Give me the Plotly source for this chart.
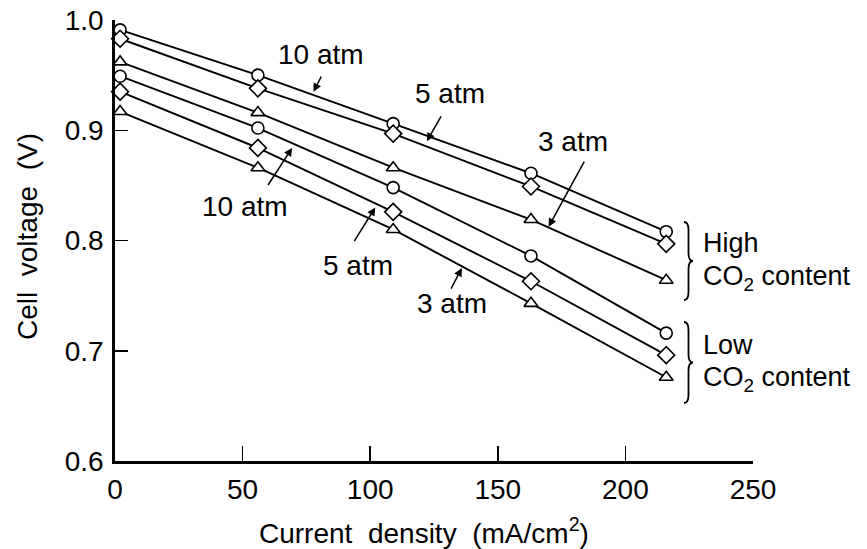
import plotly.graph_objects as go

# ---- data ----
current_density = [2, 56, 109, 163, 216]          # mA/cm^2
high_10atm = [0.991, 0.950, 0.906, 0.861, 0.808]
high_5atm = [0.983, 0.938, 0.897, 0.849, 0.797]
high_3atm = [0.962, 0.916, 0.866, 0.819, 0.764]
low_10atm = [0.949, 0.902, 0.848, 0.786, 0.716]
low_5atm = [0.935, 0.884, 0.826, 0.763, 0.696]
low_3atm = [0.917, 0.866, 0.810, 0.743, 0.676]

x_ticks = [0, 50, 100, 150, 200, 250]
y_ticks = [0.6, 0.7, 0.8, 0.9, 1.0]

FONT = "Liberation Sans, Arial, Helvetica, sans-serif"
FS = 28

series = [
    (high_10atm, "circle", "High CO2, 10 atm"),
    (high_5atm, "diamond", "High CO2, 5 atm"),
    (high_3atm, "triangle-up", "High CO2, 3 atm"),
    (low_10atm, "circle", "Low CO2, 10 atm"),
    (low_5atm, "diamond", "Low CO2, 5 atm"),
    (low_3atm, "triangle-up", "Low CO2, 3 atm"),
]

fig = go.Figure()
for vals, sym, name in series:
    size = 13 if sym == "diamond" else 12
    fig.add_trace(go.Scatter(
        x=current_density, y=vals, mode="lines+markers", name=name,
        line=dict(color="black", width=1.9),
        marker=dict(symbol=sym, size=size, color="white",
                    line=dict(color="black", width=1.6)),
        cliponaxis=False, showlegend=False,
    ))

# plot-area geometry (pixels) used for decorative items
L, R, T, B = 115, 114, 20, 88
W, H = 867, 549
PW, PH = W - L - R, H - T - B


def pp(px, py):
    return (px - L) / PW, (H - B - py) / PH


def brace_path(x0, yt, yb, w=9, r=8):
    x1 = x0 + w / 2
    x2 = x0 + w
    ym = (yt + yb) / 2
    pts = [
        ("M", [(x0, yt)]),
        ("Q", [(x1, yt), (x1, yt + r)]),
        ("L", [(x1, ym - r)]),
        ("Q", [(x1, ym), (x2, ym)]),
        ("Q", [(x1, ym), (x1, ym + r)]),
        ("L", [(x1, yb - r)]),
        ("Q", [(x1, yb), (x0, yb)]),
    ]
    s = ""
    for cmd, coords in pts:
        s += cmd + " " + " ".join("%.5f,%.5f" % pp(a, b) for a, b in coords) + " "
    return s.strip()


shapes = [
    dict(type="path", xref="paper", yref="paper", path=brace_path(684, 222, 300),
         line=dict(color="black", width=1.8)),
    dict(type="path", xref="paper", yref="paper", path=brace_path(684, 322, 403),
         line=dict(color="black", width=1.8)),
]

# pressure labels: (text, label x, label y, arrow tail x, tail y, tip x, tip y)
labels = [
    ("10 atm", 80.9, 0.969, 81.1, 0.950, 77.8, 0.935),
    ("5 atm", 131.4, 0.933, 128.1, 0.914, 122.2, 0.890),
    ("3 atm", 179.5, 0.890, 184.2, 0.873, 169.9, 0.8125),
    ("10 atm", 51.1, 0.831, 59.6, 0.849, 69.4, 0.884),
    ("5 atm", 95.3, 0.777, 93.4, 0.798, 102.0, 0.830),
    ("3 atm", 132.1, 0.743, 131.4, 0.755, 135.9, 0.775),
]

annotations = []
for txt, lx, ly, tx, ty, hx, hy in labels:
    annotations.append(dict(x=lx, y=ly, xref="x", yref="y", text=txt,
                            showarrow=False, xanchor="center", yanchor="middle",
                            font=dict(family=FONT, size=FS, color="black")))
    annotations.append(dict(x=hx, y=hy, xref="x", yref="y", ax=tx, ay=ty,
                            axref="x", ayref="y", text="", showarrow=True,
                            arrowhead=2, arrowsize=1.1, arrowwidth=1.5,
                            arrowcolor="black", standoff=0))

side_text = [
    ("High", 243),
    ("CO<sub>2</sub>\u00a0content", 278),
    ("Low", 345),
    ("CO<sub>2</sub>\u00a0content", 379),
]
for txt, py in side_text:
    x, y = pp(701, py)
    annotations.append(dict(x=x, y=y, xref="paper", yref="paper", text=txt,
                            showarrow=False, xanchor="left", yanchor="middle",
                            font=dict(family=FONT, size=27, color="black")))

# axis titles
tx, ty = pp(424, 531)
annotations.append(dict(x=tx, y=ty, xref="paper", yref="paper",
                        text="Current\u00a0 density\u00a0 (mA/cm<sup>2</sup>)",
                        showarrow=False, xanchor="center", yanchor="middle",
                        font=dict(family=FONT, size=FS, color="black")))
tx, ty = pp(27, 237)
annotations.append(dict(x=tx, y=ty, xref="paper", yref="paper",
                        text="Cell\u00a0 voltage\u00a0 (V)", textangle=-90,
                        showarrow=False, xanchor="center", yanchor="middle",
                        font=dict(family=FONT, size=FS, color="black")))

fig.update_layout(
    width=W, height=H,
    margin=dict(l=L, r=R, t=T, b=B, pad=0, autoexpand=False),
    paper_bgcolor="white", plot_bgcolor="white",
    font=dict(family=FONT, size=FS, color="black"),
    shapes=shapes, annotations=annotations,
    xaxis=dict(range=[0, 250], tickvals=x_ticks, ticktext=[str(v) for v in x_ticks],
               ticks="inside", ticklen=15, tickwidth=1.5, tickcolor="black",
               showline=True, linecolor="black", linewidth=2.5,
               showgrid=False, zeroline=False, automargin=False,
               ticklabelstandoff=2,
               tickfont=dict(family=FONT, size=FS, color="black")),
    yaxis=dict(range=[0.6, 1.0], tickvals=y_ticks, ticktext=["%.1f" % v for v in y_ticks],
               ticks="inside", ticklen=13, tickwidth=1.5, tickcolor="black",
               showline=True, linecolor="black", linewidth=2.8,
               showgrid=False, zeroline=False, automargin=False,
               ticklabelstandoff=3,
               tickfont=dict(family=FONT, size=FS, color="black")),
)

fig.write_html("out.html", config={"displayModeBar": False, "staticPlot": True})

# remove the default page margin so the figure sits at the window origin
with open("out.html", "r", encoding="utf-8") as f:
    html = f.read()
html = html.replace("<head>", "<head><style>html,body{margin:0;padding:0;overflow:hidden;}</style>", 1)
with open("out.html", "w", encoding="utf-8") as f:
    f.write(html)
